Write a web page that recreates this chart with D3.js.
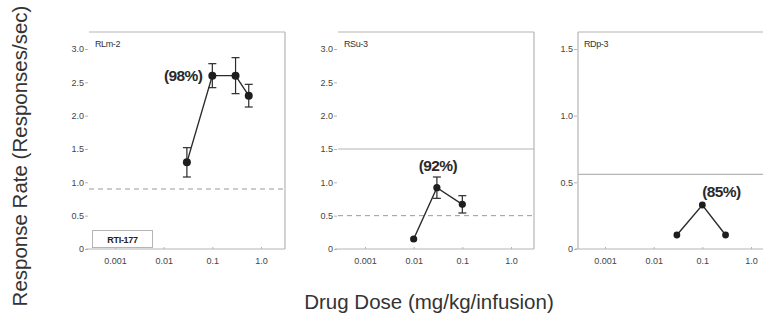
<!DOCTYPE html>
<html lang="en">
<head>
    <meta charset="UTF-8">
    <title>Response rate vs dose</title>
    <style>
        body { margin: 0; background: #fff; }
        svg text { font-family: "Liberation Sans", Arial, sans-serif; }
    </style>
</head>
<body>
<div id="content"></div>
<script src="https://d3js.org/d3.v7.min.js"></script>
<script>

    // data
    var doseTicks = [0.001, 0.01, 0.1, 1.0],
        doseTickLabels = ["0.001", "0.01", "0.1", "1.0"];

    var subjects = ["RLm-2", "RSu-3", "RDp-3"];
    var percents = ["(98%)", "(92%)", "(85%)"];
    var drugName = "RTI-177";

    var doses1 = [0.03, 0.1, 0.3, 0.56],
        rates1 = [1.3, 2.6, 2.6, 2.3],
        sem1 = [0.22, 0.18, 0.27, 0.17];

    var doses2 = [0.01, 0.03, 0.1],
        rates2 = [0.15, 0.92, 0.67],
        sem2 = [0, 0.16, 0.13];

    var doses3 = [0.03, 0.1, 0.3],
        rates3 = [0.105, 0.33, 0.105],
        sem3 = [0, 0, 0];

    var yTicks12 = [0, 0.5, 1.0, 1.5, 2.0, 2.5, 3.0],
        yTickLabels12 = ["0", "0.5", "1.0", "1.5", "2.0", "2.5", "3.0"],
        yTicks3 = [0, 0.5, 1.0, 1.5],
        yTickLabels3 = ["0", "0.5", "1.0", "1.5"];

    // saline / reference levels
    var dashedLevels = [0.9, 0.5, null],
        solidLevels = [null, 1.5, 0.56];

    var width = 763, height = 322;

    var svg = d3.select("#content")
        .append("svg")
        .attr("width", width)
        .attr("height", height);

    // layout of the three panels
    var panels = [
        {left: 89, right: 285, x0: 115, x1: 261, yMax: 3, yt: yTicks12, ytl: yTickLabels12,
            doses: doses1, rates: rates1, sem: sem1, leftBorder: false, rightBorder: true, r: 4,
            pctAt: 1, pctDx: -10, pctDy: 5, pctAnchor: "end"},
        {left: 338, right: 534, x0: 365, x1: 511, yMax: 3, yt: yTicks12, ytl: yTickLabels12,
            doses: doses2, rates: rates2, sem: sem2, leftBorder: false, rightBorder: true, r: 3.6,
            pctAt: 1, pctDx: 1, pctDy: -17, pctAnchor: "middle"},
        {left: 578, right: 763, x0: 605, x1: 751, yMax: 1.5, yt: yTicks3, ytl: yTickLabels3,
            doses: doses3, rates: rates3, sem: sem3, leftBorder: true, rightBorder: false, r: 3.4,
            pctAt: 1, pctDx: 19, pctDy: -8, pctAnchor: "middle"}
    ];

    var frameTop = 32, frameBottom = 249, yTop = 49;
    var frameColor = "#b5b5b5", inkColor = "#2b2b2b", tickColor = "#444";

    panels.forEach(function (p, i) {
        var g = svg.append("g");

        var xScale = d3.scaleLog().domain([0.001, 1]).range([p.x0, p.x1]);
        var yScale = d3.scaleLinear().domain([0, p.yMax]).range([frameBottom, yTop]);

        // frame
        g.append("line").attr("x1", p.left).attr("x2", p.right).attr("y1", frameTop).attr("y2", frameTop)
            .attr("stroke", frameColor).attr("stroke-width", 1.2);
        if (p.rightBorder) {
            g.append("line").attr("x1", p.right).attr("x2", p.right).attr("y1", frameTop).attr("y2", frameBottom)
                .attr("stroke", frameColor).attr("stroke-width", 1.2);
        }
        if (p.leftBorder) {
            g.append("line").attr("x1", p.left).attr("x2", p.left).attr("y1", frameTop).attr("y2", frameBottom)
                .attr("stroke", frameColor).attr("stroke-width", 1.2);
        }

        // x axis
        var xAxis = d3.axisBottom(xScale).tickValues(doseTicks)
            .tickFormat(function (d, k) { return doseTickLabels[k]; })
            .tickSize(-2).tickPadding(9);
        var xAxisG = g.append("g")
            .attr("transform", "translate(0," + frameBottom + ")")
            .call(xAxis);
        xAxisG.select(".domain").remove();
        xAxisG.selectAll("line").attr("stroke", frameColor);
        xAxisG.selectAll("text").attr("fill", tickColor).style("font-size", "9px")
            .style("font-family", "'Liberation Sans', Arial, sans-serif");
        g.append("line").attr("x1", p.left - 3).attr("x2", p.right).attr("y1", frameBottom).attr("y2", frameBottom)
            .attr("stroke", frameColor).attr("stroke-width", 1.2);

        // y axis
        var yAxis = d3.axisLeft(yScale).tickValues(p.yt)
            .tickFormat(function (d, k) { return p.ytl[k]; })
            .tickSize(3).tickPadding(1);
        var yAxisG = g.append("g")
            .attr("transform", "translate(" + (p.left - 1) + ",0)")
            .call(yAxis);
        yAxisG.select(".domain").remove();
        yAxisG.selectAll("line").attr("stroke", frameColor);
        yAxisG.selectAll("text").attr("fill", tickColor).style("font-size", "9px")
            .style("font-family", "'Liberation Sans', Arial, sans-serif");

        // reference lines
        if (dashedLevels[i] !== null) {
            g.append("line").attr("x1", p.left).attr("x2", p.right)
                .attr("y1", yScale(dashedLevels[i])).attr("y2", yScale(dashedLevels[i]))
                .attr("stroke", "#9a9a9a").attr("stroke-width", 1).attr("stroke-dasharray", "5,4");
        }
        if (solidLevels[i] !== null) {
            g.append("line").attr("x1", p.left).attr("x2", p.right)
                .attr("y1", yScale(solidLevels[i])).attr("y2", yScale(solidLevels[i]))
                .attr("stroke", frameColor).attr("stroke-width", 1.2);
        }

        // subject label
        g.append("text").attr("x", p.left + 6).attr("y", frameTop + 15)
            .attr("fill", "#333").style("font-size", "9px").style("letter-spacing", "-0.4px")
            .text(subjects[i]);

        var pts = p.doses.map(function (d, k) { return {x: d, y: p.rates[k], e: p.sem[k]}; });

        // line
        var lineSegment = d3.line()
            .x(function (d) { return xScale(d.x); })
            .y(function (d) { return yScale(d.y); });

        g.append("path").datum(pts).attr("d", lineSegment)
            .attr("fill", "none").attr("stroke", inkColor).attr("stroke-width", 1.4);

        // error bars
        var eb = g.selectAll(".eb").data(pts.filter(function (d) { return d.e > 0; }))
            .enter().append("g");
        eb.append("line")
            .attr("x1", function (d) { return xScale(d.x); }).attr("x2", function (d) { return xScale(d.x); })
            .attr("y1", function (d) { return yScale(d.y - d.e); }).attr("y2", function (d) { return yScale(d.y + d.e); })
            .attr("stroke", inkColor).attr("stroke-width", 1.2);
        [-1, 1].forEach(function (s) {
            eb.append("line")
                .attr("x1", function (d) { return xScale(d.x) - 4; }).attr("x2", function (d) { return xScale(d.x) + 4; })
                .attr("y1", function (d) { return yScale(d.y + s * d.e); }).attr("y2", function (d) { return yScale(d.y + s * d.e); })
                .attr("stroke", inkColor).attr("stroke-width", 1.2);
        });

        // points
        g.selectAll(".pt").data(pts).enter().append("circle")
            .attr("cx", function (d) { return xScale(d.x); })
            .attr("cy", function (d) { return yScale(d.y); })
            .attr("r", p.r).attr("fill", "#1e1e1e");

        // percent label
        var ref = pts[p.pctAt];
        g.append("text")
            .attr("x", xScale(ref.x) + p.pctDx).attr("y", yScale(ref.y) + p.pctDy)
            .attr("text-anchor", p.pctAnchor)
            .attr("fill", "#2a2a2a").style("font-size", "15.5px").style("font-weight", "bold")
            .style("letter-spacing", "-0.6px")
            .text(percents[i]);
    });

    // drug legend box in first panel
    svg.append("rect").attr("x", 92.5).attr("y", 230.5).attr("width", 60).attr("height", 17)
        .attr("fill", "#fff").attr("stroke", frameColor).attr("stroke-width", 1);
    svg.append("text").attr("x", 122.5).attr("y", 242.5).attr("text-anchor", "middle")
        .attr("fill", "#222").style("font-size", "9px").style("font-weight", "bold")
        .style("letter-spacing", "-0.3px")
        .text(drugName);

    // axis titles
    svg.append("text")
        .attr("transform", "translate(27,156) rotate(-90)")
        .attr("text-anchor", "middle")
        .attr("fill", "#333").style("font-size", "20.5px")
        .text("Response Rate (Responses/sec)");

    svg.append("text")
        .attr("x", 429).attr("y", 309)
        .attr("text-anchor", "middle")
        .attr("fill", "#333").style("font-size", "20.5px")
        .text("Drug Dose (mg/kg/infusion)");

</script>
</body>
</html>
